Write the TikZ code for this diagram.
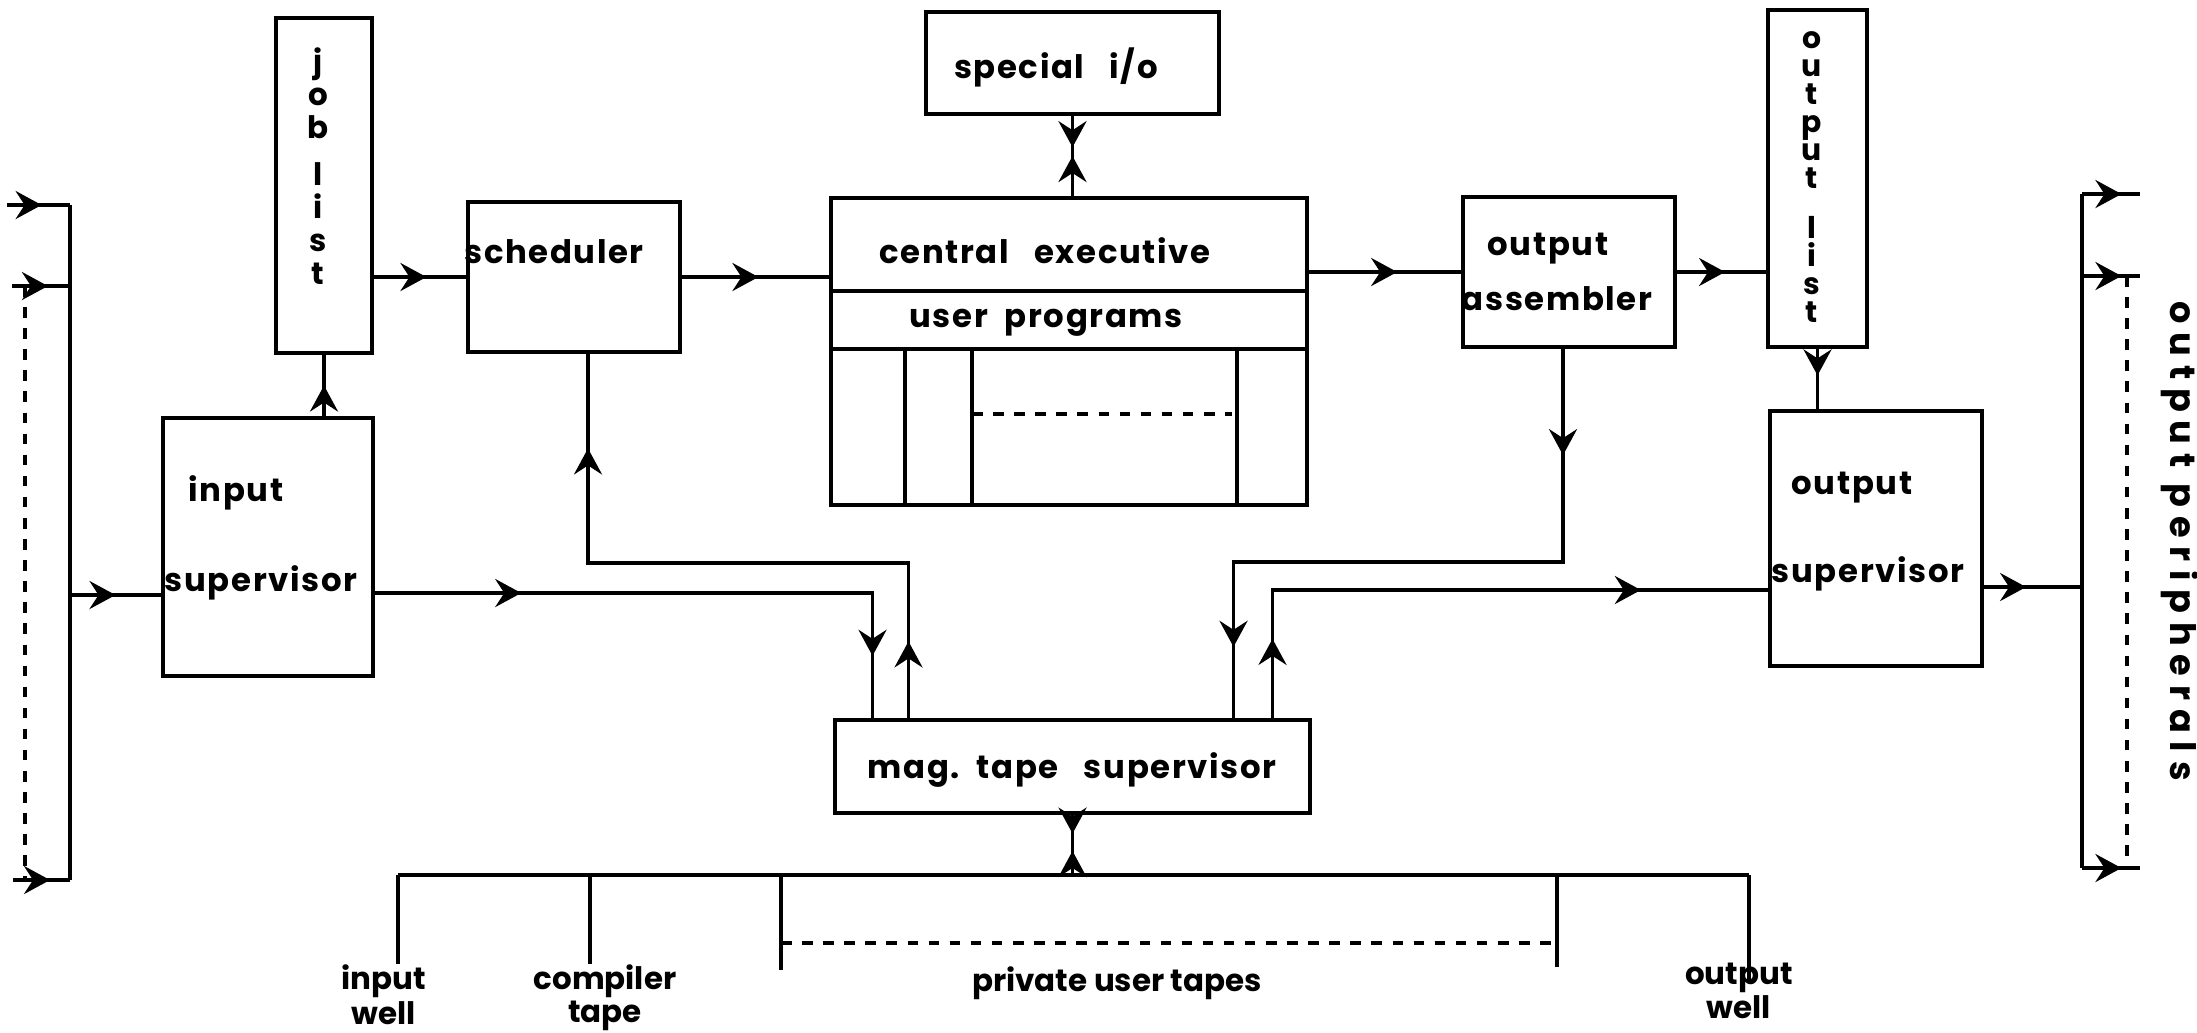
\documentclass[tikz,border=0pt]{standalone}
\usepackage{fontspec}
\setmainfont{Poppins}
\usetikzlibrary{arrows.meta,decorations.markings}

\begin{document}
\begin{tikzpicture}[
  >={Stealth[length=2.6mm,width=2.8mm,inset=0.9mm]},
  line/.style={line width=1.1pt},
  box/.style={draw, line width=1.1pt, inner sep=0pt},
  lbl/.style={font=\bfseries\fontsize{9.2}{11}\selectfont\addfontfeatures{LetterSpace=5}, inner sep=0pt},
  stack/.style={inner sep=0pt, align=center},
  tapelbl/.style={font=\bfseries\fontsize{8.8}{8}\selectfont, inner sep=0pt, align=center, anchor=north},
  midarrow/.style={postaction={decorate,decoration={markings,mark=at position #1 with {\arrow{>}}}}},
  dashline/.style={line width=1pt, dash pattern=on 3pt off 3pt}
]
\fill[white] (0,0) rectangle (21.97,-10.32);
\useasboundingbox (0,0) rectangle (21.97,-10.32);

% boxes
\node[box, minimum width=0.96cm, minimum height=3.35cm] (joblist) at (3.24,-1.855) {};
\node[box, minimum width=2.10cm, minimum height=2.58cm] (inputsup) at (2.68,-5.47) {};
\node[box, minimum width=2.12cm, minimum height=1.50cm] (sched) at (5.74,-2.77) {};
\node[box, minimum width=4.76cm, minimum height=3.07cm] (central) at (10.69,-3.515) {};
\node[box, minimum width=2.93cm, minimum height=1.02cm] (specio) at (10.725,-0.63) {};
\node[box, minimum width=2.12cm, minimum height=1.50cm] (outasm) at (15.69,-2.72) {};
\node[box, minimum width=0.99cm, minimum height=3.37cm] (outlist) at (18.175,-1.785) {};
\node[box, minimum width=2.12cm, minimum height=2.55cm] (outsup) at (18.76,-5.385) {};
\node[box, minimum width=4.75cm, minimum height=0.93cm] (magtape) at (10.725,-7.665) {};

% texts
\node[stack, font=\bfseries\fontsize{8.8}{9.4}\selectfont] (joblisttxt) at (3.18,-1.66) {j\\o\\b\\[4pt]l\\i\\s\\t};
\node[lbl] (inputa) at (2.36,-4.93) {input};
\node[lbl] (inputb) at (2.61,-5.83) {supervisor};
\node[lbl] (schedtxt) at (5.54,-2.52) {scheduler};
\node[lbl] (specitxt) at (10.56,-0.67) {special\ \ \ i/o};
\node[lbl] (centrala) at (10.45,-2.51) {central\ \ \ executive};
\node[lbl] (centralb) at (10.46,-3.23) {user\ \ programs};
\node[lbl] (outasma) at (15.48,-2.49) {output};
\node[lbl] (outasmb) at (15.57,-2.99) {assembler};
\node[stack, font=\bfseries\fontsize{8.5}{8.0}\selectfont] (outlisttxt) at (18.12,-1.77) {o\\u\\t\\p\\u\\t\\[6pt]l\\i\\s\\t};
\node[lbl] (outsupa) at (18.52,-4.88) {output};
\node[lbl] (outsupb) at (18.68,-5.74) {supervisor};
\node[lbl] (magtxt) at (10.72,-7.70) {mag.\ \ tape\ \ \ supervisor};
\node[lbl, rotate=-90, font=\bfseries\fontsize{10}{12}\selectfont\addfontfeatures{LetterSpace=25}] (outper) at (21.80,-5.41) {output peripherals};
\node[tapelbl] (inwell) at (3.84,-9.64) {input\\well};
\node[tapelbl] (comptape) at (6.05,-9.64) {compiler\\tape};
\node[tapelbl] (privtxt) at (11.17,-9.66) {private user tapes};
\node[tapelbl] (outwell) at (17.39,-9.62) {output\\well};

% central executive partitions
\draw[line] (central.west |- 0,-2.91) -- (central.east |- 0,-2.91);
\draw[line] (central.west |- 0,-3.49) -- (central.east |- 0,-3.49);
\foreach \x in {9.05,9.72,12.37}
  \draw[line] (\x,-3.49) -- (\x,-5.05);
\draw[dashline] (9.72,-4.14) -- (12.32,-4.14);

% input peripherals
\coordinate (ibt) at (0.70,-2.05);
\coordinate (ibb) at (0.70,-8.80);
\coordinate (in1) at (0.07,-2.05);
\coordinate (in2) at (0.12,-2.86);
\coordinate (in3) at (0.13,-8.80);
\draw[line] (ibt) -- (ibb);
\draw[line, midarrow=0.55] (in1) -- (ibt);
\draw[line, midarrow=0.62] (in2) -- (in2 -| ibt);
\draw[line, midarrow=0.65] (in3) -- (ibb);
\draw[dashline] (0.25,-2.86) -- (0.25,-8.80);

% output peripherals
\coordinate (obt) at (20.82,-1.94);
\coordinate (obb) at (20.82,-8.68);
\coordinate (out1) at (21.40,-1.94);
\coordinate (out2) at (21.40,-2.76);
\coordinate (out3) at (21.40,-8.68);
\draw[line] (obt) -- (obb);
\draw[line, midarrow=0.68] (obt) -- (out1);
\draw[line, midarrow=0.68] (out2 -| obt) -- (out2);
\draw[line, midarrow=0.68] (obb) -- (out3);
\draw[dashline] (21.27,-2.76) -- (21.27,-8.68);

% main flow
\draw[line, midarrow=0.5] (ibt |- 0,-5.95) -- (inputsup.west |- 0,-5.95);
\draw[line, midarrow=0.5] (joblist.south |- inputsup.north) -- (joblist.south);
\draw[line, midarrow=0.57] (sched.west -| joblist.east) -- (sched.west);
\draw[line, midarrow=0.52] (sched.east) -- (sched.east -| central.west);
\draw[line, midarrow=0.39] (specio.south) -- (specio.south |- central.north);
\draw[line, midarrow=0.5] (specio.south |- central.north) -- (specio.south);
\draw[line, midarrow=0.58] (outasm.west -| central.east) -- (outasm.west);
\draw[line, midarrow=0.54] (outasm.east) -- (outasm.east -| outlist.west);
\draw[line, midarrow=0.44] (outlist.south) -- (outlist.south |- outsup.north);
\draw[line, midarrow=0.43] (outsup.east |- 0,-5.87) -- (obt |- 0,-5.87);

% mag tape links
\coordinate (mtA) at ([xshift=-2.0cm]magtape.north);
\coordinate (mtB) at ([xshift=-1.64cm]magtape.north);
\coordinate (mtC) at ([xshift=1.61cm]magtape.north);
\coordinate (mtD) at ([xshift=2.0cm]magtape.north);
\coordinate (schin) at ([xshift=0.14cm]sched.south);
\coordinate (asmout) at ([xshift=-0.06cm]outasm.south);
\draw[line, midarrow=0.235, midarrow=0.90] (inputsup.east |- 0,-5.93) -| (mtA);
\draw[line, midarrow=0.112, midarrow=0.862] (mtB) |- (schin |- 0,-5.63) -- (schin);
\draw[line, midarrow=0.152, midarrow=0.898] (asmout) |- (mtC |- 0,-5.62) -- (mtC);
\draw[line, midarrow=0.127, midarrow=0.796] (mtD) |- (outsup.west |- 0,-5.90);

% tapes
\coordinate (tbl) at (3.98,-8.75);
\coordinate (tbc) at (5.90,-8.75);
\coordinate (pu1) at (7.81,-8.75);
\coordinate (pu2) at (15.57,-8.75);
\coordinate (tbr) at (17.49,-8.75);
\coordinate (pu1e) at (7.81,-9.70);
\coordinate (pu2e) at (15.57,-9.67);
\draw[line] (tbl) -- (tbr);
\draw[line, midarrow=0.31] (magtape.south) -- (magtape.south |- tbl);
\draw[line, midarrow=0.40] (magtape.south |- tbl) -- (magtape.south);
\draw[line] (tbl) -- (tbl |- inwell.north);
\draw[line] (tbc) -- (tbc |- comptape.north);
\draw[line] (pu1) -- (pu1e);
\draw[line] (pu2) -- (pu2e);
\draw[dashline] (pu1 |- 0,-9.43) -- (pu2 |- 0,-9.43);
\draw[line] (tbr) -- ([yshift=-0.2cm]tbr |- outwell.north);
\end{tikzpicture}
\end{document}
